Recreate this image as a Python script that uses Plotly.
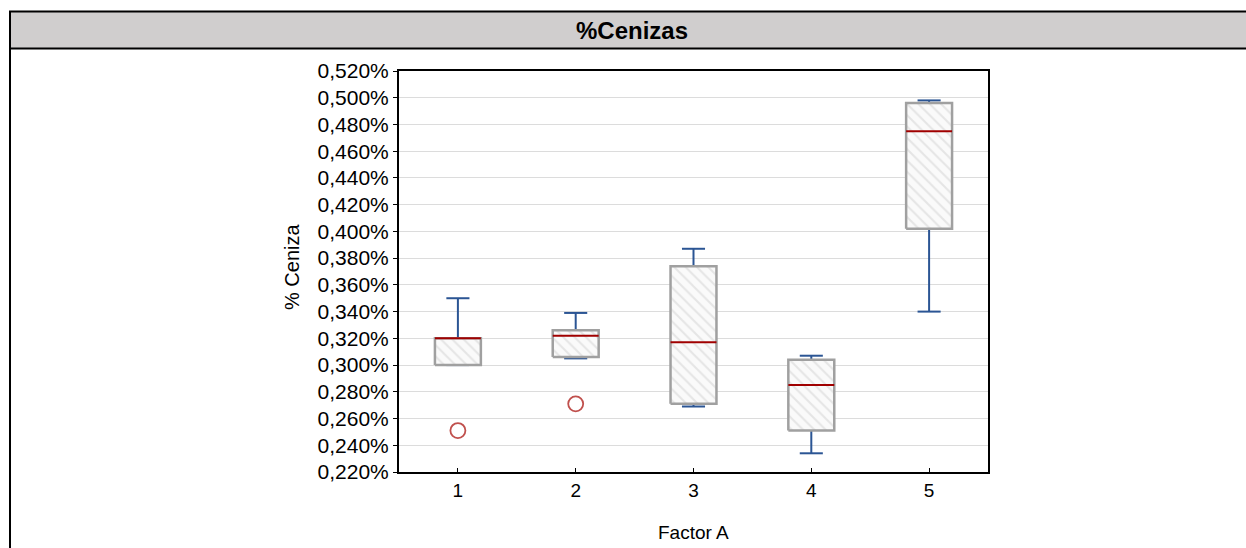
import plotly.graph_objects as go

# ---- data (values in %) ----
categories = [1, 2, 3, 4, 5]
whisker_low = [0.300, 0.305, 0.269, 0.234, 0.340]
q1 = [0.300, 0.306, 0.271, 0.251, 0.402]
median = [0.320, 0.322, 0.317, 0.285, 0.475]
q3 = [0.320, 0.326, 0.374, 0.304, 0.496]
whisker_high = [0.350, 0.339, 0.387, 0.307, 0.498]
outlier_x = [1, 2]
outlier_y = [0.251, 0.271]
y_ticks = [round(0.22 + 0.02 * k, 3) for k in range(16)]
y_ticktext = [f"{v:.3f}".replace(".", ",") + "%" for v in y_ticks]

title_text = "%Cenizas"
y_title = "% Ceniza"
x_title = "Factor A"

# ---- geometry helpers (page pixels -> paper) ----
W, H = 1246, 548
L, R, T, B = 399, 988, 71, 472
def px(x):
    return (x - L) / (R - L)
def py(y):
    return (B - y) / (B - T)

bw = 0.195   # half box width (category units)
cw = 0.098   # half cap width

wx, wy = [], []
for c, lo, a, b, hi in zip(categories, whisker_low, q1, q3, whisker_high):
    wx += [c, c, None, c - cw, c + cw, None, c, c, None, c - cw, c + cw, None]
    wy += [b, hi, None, hi, hi, None, a, lo, None, lo, lo, None]

bx, by = [], []
for c, a, b in zip(categories, q1, q3):
    bx += [c - bw, c + bw, c + bw, c - bw, c - bw, None]
    by += [a, a, b, b, a, None]

mx, my = [], []
for c, m in zip(categories, median):
    mx += [c - bw, c + bw, None]
    my += [m, m, None]

fig = go.Figure()
fig.add_trace(go.Scatter(x=wx, y=wy, mode="lines",
                         line=dict(color="#2b5594", width=2), hoverinfo="skip"))
fig.add_trace(go.Scatter(x=bx, y=by, mode="lines", fill="toself",
                         fillcolor="white",
                         fillpattern=dict(shape="\\", fgcolor="#d0d0d0", bgcolor="#fafafa",
                                          size=8, solidity=0.25),
                         line=dict(color="#a0a0a0", width=2.5), hoverinfo="skip"))
fig.add_trace(go.Scatter(x=mx, y=my, mode="lines",
                         line=dict(color="#a00000", width=2), hoverinfo="skip"))
fig.add_trace(go.Scatter(x=outlier_x, y=outlier_y, mode="markers",
                         marker=dict(symbol="circle-open", size=15, color="#c0504d",
                                     line=dict(width=1.8, color="#c0504d")),
                         hoverinfo="skip"))

font_main = "Liberation Sans, Arial, sans-serif"

fig.update_layout(
    width=W, height=H,
    margin=dict(l=L, r=W - R, t=T, b=H - B, pad=0),
    paper_bgcolor="white", plot_bgcolor="white",
    showlegend=False,
    font=dict(family=font_main, size=20, color="black"),
    xaxis=dict(range=[0.5, 5.5], tickvals=categories, ticktext=[str(c) for c in categories],
               showgrid=False, zeroline=False, showline=True, linecolor="black",
               linewidth=2, mirror=True, ticks="inside", ticklen=4, tickcolor="black",
               tickfont=dict(size=19)),
    xaxis2=dict(range=[0.5, 5.5], tickvals=categories, overlaying="x", side="top",
                showgrid=False, zeroline=False, showline=False, ticks="inside",
                ticklen=4, tickcolor="black", showticklabels=False),
    yaxis=dict(range=[0.22, 0.52], tickvals=y_ticks, ticktext=y_ticktext,
               showgrid=True, gridcolor="#dcdcdc", gridwidth=1, zeroline=False,
               showline=True, linecolor="black", linewidth=2, mirror=True,
               ticks="outside", ticklen=4, tickcolor="black",
               tickfont=dict(size=21)),
    shapes=[
        dict(type="rect", xref="paper", yref="paper", x0=px(10), x1=px(W + 5),
             y0=py(49), y1=py(11), fillcolor="#d0cece", line=dict(width=0), layer="below"),
        dict(type="line", xref="paper", yref="paper", x0=px(9), x1=px(W + 5),
             y0=py(11.5), y1=py(11.5), line=dict(color="black", width=2)),
        dict(type="line", xref="paper", yref="paper", x0=px(9), x1=px(W + 5),
             y0=py(48.5), y1=py(48.5), line=dict(color="black", width=2)),
        dict(type="line", xref="paper", yref="paper", x0=px(10), x1=px(10),
             y0=py(11), y1=py(H + 5), line=dict(color="black", width=2)),
    ],
    annotations=[
        dict(text="<b>" + title_text + "</b>", xref="paper", yref="paper",
             x=px(632), y=py(30), xanchor="center", yanchor="middle", showarrow=False,
             font=dict(family=font_main, size=24, color="black")),
        dict(text=y_title, xref="paper", yref="paper", x=px(292), y=py(267),
             xanchor="center", yanchor="middle", textangle=-90, showarrow=False,
             font=dict(family=font_main, size=20, color="black")),
        dict(text=x_title, xref="paper", yref="paper", x=px(693), y=py(532),
             xanchor="center", yanchor="middle", showarrow=False,
             font=dict(family=font_main, size=19, color="black")),
    ],
)

fig.write_html("out.html")
